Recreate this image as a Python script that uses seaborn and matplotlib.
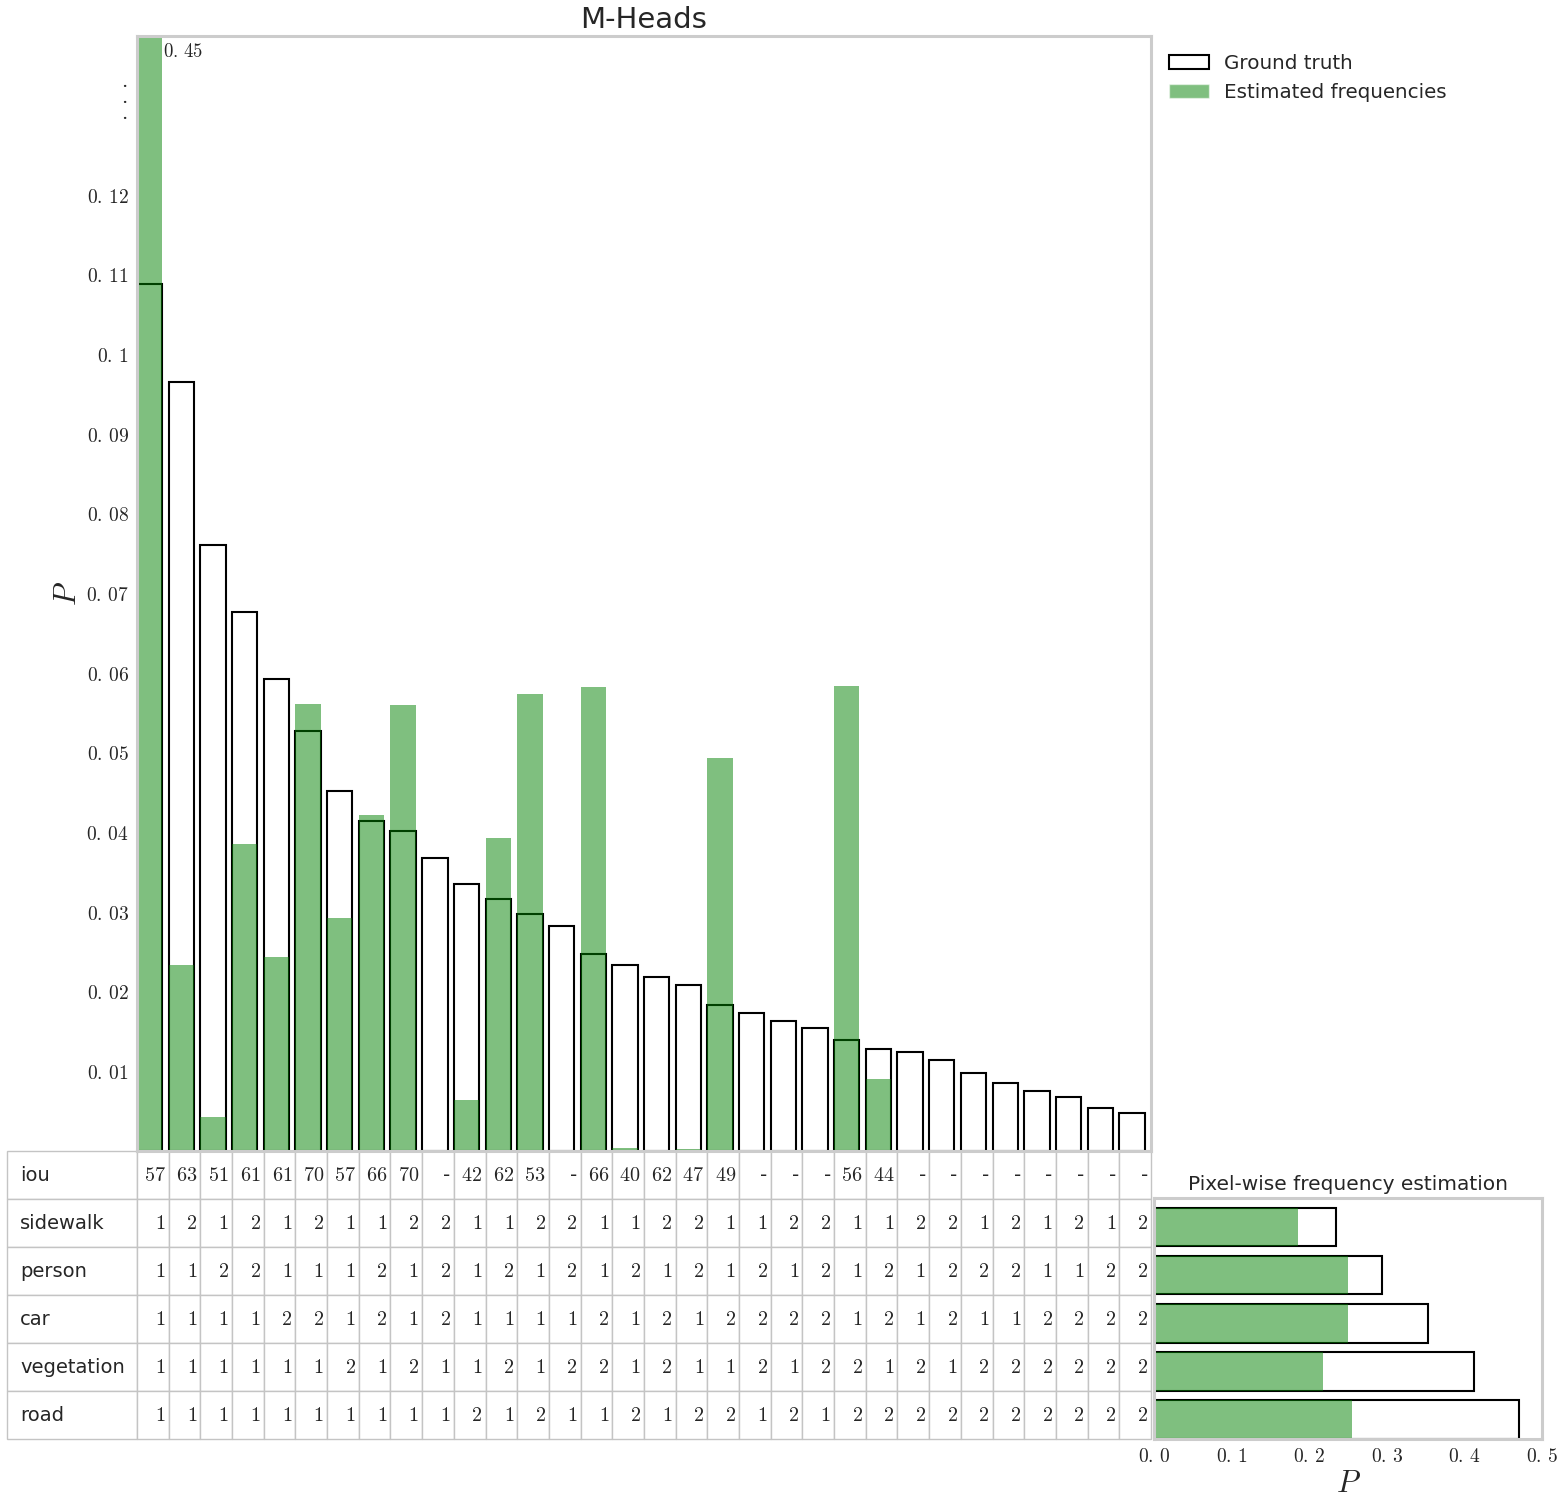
import numpy as np
import pandas as pd
import matplotlib
matplotlib.use('Agg')
import matplotlib.pyplot as plt
import seaborn as sns
from matplotlib.patches import Patch

# ---------------- data ----------------
gt_freq = [0.1088, 0.0966, 0.0761, 0.0677, 0.0593, 0.0528, 0.0452, 0.0415,
           0.0402, 0.0368, 0.0335, 0.0317, 0.0297, 0.0282, 0.0247, 0.0234,
           0.0219, 0.0208, 0.0183, 0.0173, 0.0163, 0.0154, 0.0139, 0.0128,
           0.0124, 0.0114, 0.0098, 0.0086, 0.0076, 0.0068, 0.0054, 0.0048]
est_freq = [0.45, 0.0233, 0.0043, 0.0386, 0.0243, 0.0561, 0.0293, 0.0422,
            0.0560, 0.0, 0.0064, 0.0393, 0.0574, 0.0, 0.0583, 0.0004,
            0.0001, 0.0002, 0.0494, 0.0, 0.0, 0.0, 0.0584, 0.0090,
            0.0, 0.0, 0.0, 0.0, 0.0, 0.0, 0.0, 0.0]
iou = ['57', '63', '51', '61', '61', '70', '57', '66', '70', '-', '42', '62',
       '53', '-', '66', '40', '62', '47', '49', '-', '-', '-', '56', '44',
       '-', '-', '-', '-', '-', '-', '-', '-']
sidewalk = [1, 2, 1, 2, 1, 2, 1, 1, 2, 2, 1, 1, 2, 2, 1, 1, 2, 2, 1, 1, 2, 2,
            1, 1, 2, 2, 1, 2, 1, 2, 1, 2]
person = [1, 1, 2, 2, 1, 1, 1, 2, 1, 2, 1, 2, 1, 2, 1, 2, 1, 2, 1, 2, 1, 2,
          1, 2, 1, 2, 2, 2, 1, 1, 2, 2]
car = [1, 1, 1, 1, 2, 2, 1, 2, 1, 2, 1, 1, 1, 1, 2, 1, 2, 1, 2, 2, 2, 2,
       1, 2, 1, 2, 1, 1, 2, 2, 2, 2]
vegetation = [1, 1, 1, 1, 1, 1, 2, 1, 2, 1, 1, 2, 1, 2, 2, 1, 2, 1, 1, 2, 1, 2,
              2, 1, 2, 1, 2, 2, 2, 2, 2, 2]
road = [1, 1, 1, 1, 1, 1, 1, 1, 1, 1, 2, 1, 2, 1, 1, 2, 1, 2, 2, 1, 2, 1,
        2, 2, 2, 2, 2, 2, 2, 2, 2, 2]
classes = ['sidewalk', 'person', 'car', 'vegetation', 'road']
pix_gt = [0.2345, 0.294, 0.353, 0.412, 0.470]
pix_est = [0.185, 0.250, 0.250, 0.218, 0.255]
main_yticks = [0.01, 0.02, 0.03, 0.04, 0.05, 0.06, 0.07, 0.08, 0.09, 0.10,
               0.11, 0.12]
pix_xticks = [0.0, 0.1, 0.2, 0.3, 0.4, 0.5]

# ---------------- style ----------------
sns.set_theme(style='whitegrid')
plt.rcParams['font.family'] = ['DejaVu Sans']
plt.rcParams['mathtext.fontset'] = 'cm'


def mlabel(s):
    return '$' + s.replace('.', '.\\,') + '$'


fig = plt.figure(figsize=(15.64, 15.06), dpi=100)
ax = fig.add_axes([0.0876, 0.2357, 0.6483, 0.7404])
ax2 = fig.add_axes([0.7379, 0.0445, 0.2481, 0.1600])

# ---------------- main bars ----------------
df = pd.DataFrame({'col': list(range(len(gt_freq))), 'gt': gt_freq,
                   'est': est_freq})
sns.barplot(data=df, x='col', y='gt', color='white', edgecolor='black',
            linewidth=1.5, saturation=1, width=0.8, ax=ax)
sns.barplot(data=df, x='col', y='est', color='green', alpha=0.5,
            linewidth=0, saturation=1, width=0.8, ax=ax)
ncol = len(gt_freq)
ax.set_xlim(-0.4, ncol - 0.4)
ax.set_ylim(0, 0.14)
ax.set_xticks([])
ax.set_xlabel('')
ax.set_yticks(main_yticks)
ax.set_yticklabels([mlabel(f'{v:g}') for v in main_yticks], fontsize=14)
ax.tick_params(axis='both', length=0, pad=6)
# vertical ellipsis above the last tick (axis break marker)
for dy in (16, 0, -16):
    ax.annotate('.', xy=(0, 0.1317), xycoords=ax.get_yaxis_transform(),
                xytext=(-10, dy - 1), textcoords='offset pixels',
                ha='right', va='baseline', fontsize=14,
                family='DejaVu Serif', color='#262626', annotation_clip=False)
ax.set_ylabel('$P$', fontsize=22, labelpad=3)
ax.set_title('M-Heads', fontsize=21)
ax.text(0.42, 0.1392, mlabel(f'{est_freq[0]:g}'), ha='left', va='top',
        fontsize=13.5, clip_on=False)
ax.grid(False)

ax.legend(handles=[Patch(facecolor='white', edgecolor='black', linewidth=1.5,
                         label='Ground truth'),
                   Patch(facecolor='green', alpha=0.5,
                         label='Estimated frequencies')],
          loc='upper left', bbox_to_anchor=(1.0, 1.0), frameon=False,
          fontsize=14.3)

# ---------------- table ----------------
rows = [('iou', iou), ('sidewalk', sidewalk), ('person', person),
        ('car', car), ('vegetation', vegetation), ('road', road)]
cell_text = []
for name, vals in rows:
    line = [name]
    for v in vals:
        s = str(v)
        line.append(s if s == '-' else '$' + s + '$')
    cell_text.append(line)
widths = [130.0] + [1014.0 / ncol] * ncol
tot = sum(widths)
tab = ax.table(cellText=cell_text, cellLoc='right',
               colWidths=[w / tot for w in widths],
               bbox=[-130.0 / 1014, -288.0 / 1115, tot / 1014, 288.0 / 1115])
tab.auto_set_font_size(False)
tab.set_fontsize(14.5)
for (r, c), cell in tab.get_celld().items():
    cell.set_edgecolor('#c4c4c4')
    cell.set_linewidth(1.0)
    if c == 0:
        cell._loc = 'left'
        cell.get_text().set_horizontalalignment('left')
        cell.get_text().set_fontsize(14)

# ---------------- pixel-wise axes ----------------
df2 = pd.DataFrame({'cls': classes, 'gt': pix_gt, 'est': pix_est})
sns.barplot(data=df2, y='cls', x='gt', orient='h', color='white',
            edgecolor='black', linewidth=1.5, saturation=1, width=0.8, ax=ax2)
sns.barplot(data=df2, y='cls', x='est', orient='h', color='green', alpha=0.5,
            linewidth=0, saturation=1, width=0.8, ax=ax2)
ax2.set_ylim(len(classes) - 0.6, -0.6)
ax2.set_xlim(0, 0.5)
ax2.set_yticks([])
ax2.set_ylabel('')
ax2.set_xticks(pix_xticks)
ax2.set_xticklabels([mlabel(f'{v:.1f}') for v in pix_xticks], fontsize=14)
ax2.tick_params(axis='both', length=0, pad=6)
ax2.set_xlabel('$P$', fontsize=22, labelpad=2)
ax2.set_title('Pixel-wise frequency estimation', fontsize=14.5)
ax2.grid(False)

for a in (ax, ax2):
    for s in a.spines.values():
        s.set_color('#cccccc')
        s.set_linewidth(2.2)

fig.savefig('out.png', dpi=100)
